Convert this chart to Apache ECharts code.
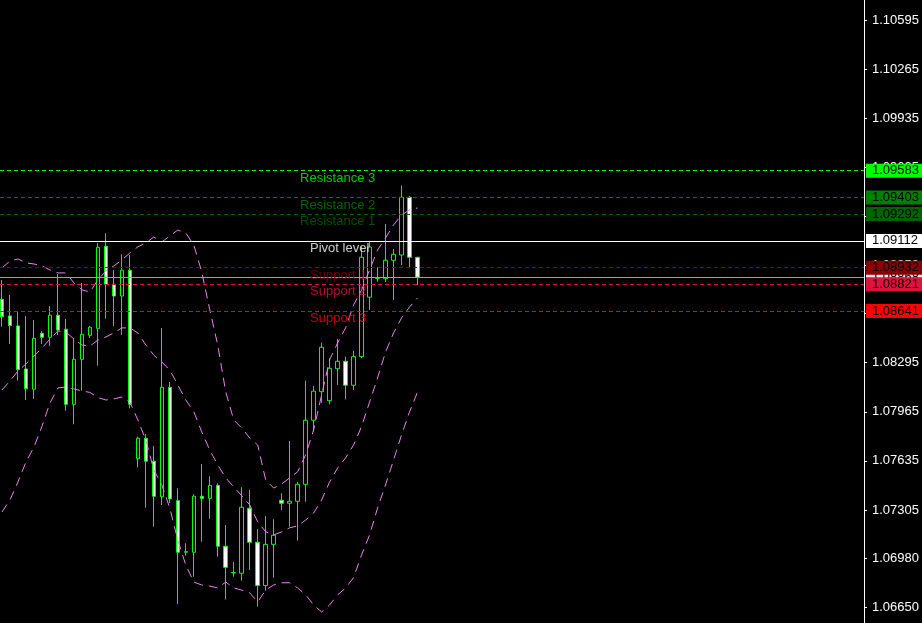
<!DOCTYPE html>
<html><head><meta charset="utf-8">
<script src="https://cdn.jsdelivr.net/npm/echarts@6/dist/echarts.min.js"></script>
<style>html,body{margin:0;padding:0;background:#000;}#c{width:922px;height:623px;}</style>
</head><body><div id="c"></div>
<script>
// ---- data (EURUSD-style quotes) ----
const bars = [0,1,2,3,4,5,6,7,8,9,10,11,12,13,14,15,16,17,18,19,20,21,22,23,24,25,26,27,28,29,30,31,32,33,34,35,36,37,38,39,40,41,42,43,44,45,46,47,48,49,50,51,52];
const opens  = [1.08720,1.08608,1.08541,1.08252,1.08116,1.08492,1.08465,1.08613,1.08519,1.08015,1.08317,1.08478,1.08525,1.09076,1.08821,1.08742,1.08915,1.07650,1.07787,1.07633,1.07395,1.08129,1.07368,1.07022,1.07022,1.07398,1.07384,1.07471,1.07062,1.06883,1.06881,1.07317,1.07089,1.06798,1.07075,1.07371,1.07351,1.07364,1.07478,1.07908,1.08100,1.08039,1.08254,1.08304,1.08143,1.08335,1.08734,1.08861,1.08858,1.08982,1.09017,1.09405,1.09002];
const closes = [1.08603,1.08543,1.08248,1.08120,1.08458,1.08465,1.08613,1.08514,1.08015,1.08317,1.08485,1.08532,1.09069,1.08821,1.08742,1.08915,1.08015,1.07787,1.07633,1.07398,1.08129,1.07380,1.07022,1.07026,1.07398,1.07382,1.07471,1.07062,1.06921,1.06886,1.07324,1.07089,1.06798,1.07075,1.07136,1.07351,1.07364,1.07478,1.07908,1.08103,1.08398,1.08257,1.08304,1.08143,1.08335,1.09002,1.09071,1.08864,1.08982,1.09022,1.09405,1.09002,1.08868];
const lows   = [1.08536,1.08420,1.08174,1.08044,1.08051,1.08420,1.08407,1.08480,1.07972,1.07881,1.08107,1.08460,1.08274,1.08590,1.08541,1.08480,1.07988,1.07592,1.07321,1.07194,1.07339,1.07353,1.06673,1.06999,1.06858,1.07093,1.07247,1.06992,1.06706,1.06858,1.06831,1.06903,1.06657,1.06764,1.06851,1.07306,1.07194,1.07100,1.07361,1.07831,1.08024,1.08015,1.08145,1.08049,1.08111,1.08324,1.08648,1.08838,1.08836,1.08715,1.08950,1.08935,1.08816];
const highs  = [1.08850,1.08749,1.08633,1.08608,1.08581,1.08507,1.08675,1.08890,1.08588,1.08460,1.08830,1.08541,1.09096,1.09163,1.08917,1.09022,1.09017,1.07798,1.07816,1.07735,1.08527,1.08165,1.07451,1.07082,1.07411,1.07614,1.07532,1.07485,1.07205,1.06957,1.07458,1.07440,1.07176,1.07265,1.07243,1.07418,1.07769,1.07494,1.08174,1.08138,1.08429,1.08324,1.08454,1.08335,1.08374,1.09073,1.09109,1.08935,1.09226,1.09058,1.09484,1.09413,1.09004];
const bbUpper  = [1.08930,1.08977,1.08991,1.08964,1.08957,1.08944,1.08917,1.08897,1.08897,1.08830,1.08783,1.08769,1.08850,1.08910,1.08944,1.08984,1.09031,1.09072,1.09098,1.09138,1.09105,1.09145,1.09185,1.09165,1.09085,1.08903,1.08650,1.08413,1.08098,1.07910,1.07856,1.07789,1.07742,1.07507,1.07453,1.07480,1.07521,1.07562,1.07676,1.07843,1.08078,1.08313,1.08427,1.08528,1.08682,1.08783,1.08917,1.09051,1.09132,1.09219,1.09286,1.09320,1.09333];
const bbMiddle = [1.08111,1.08172,1.08239,1.08286,1.08339,1.08393,1.08453,1.08507,1.08500,1.08453,1.08413,1.08406,1.08446,1.08467,1.08494,1.08528,1.08528,1.08494,1.08413,1.08345,1.08299,1.08245,1.08145,1.08044,1.07966,1.07830,1.07708,1.07608,1.07521,1.07461,1.07401,1.07340,1.07226,1.07159,1.07138,1.07159,1.07186,1.07199,1.07238,1.07285,1.07373,1.07494,1.07588,1.07655,1.07742,1.07867,1.08030,1.08192,1.08366,1.08494,1.08595,1.08668,1.08729];
const bbLower  = [1.07292,1.07373,1.07494,1.07628,1.07728,1.07867,1.08024,1.08125,1.08131,1.08118,1.08105,1.08095,1.08060,1.08044,1.08051,1.08064,1.08030,1.07910,1.07775,1.07574,1.07474,1.07319,1.07104,1.06936,1.06822,1.06802,1.06795,1.06782,1.06822,1.06782,1.06768,1.06750,1.06688,1.06768,1.06802,1.06817,1.06817,1.06782,1.06736,1.06668,1.06621,1.06668,1.06736,1.06782,1.06852,1.07004,1.07138,1.07319,1.07474,1.07641,1.07809,1.07964,1.08098];
const levelNames  = ['Resistance 3','Resistance 2','Resistance 1','Pivot level','Support 1','Support 2','Support 3'];
const levelValues = [1.09583,1.09403,1.09292,1.09112,1.08932,1.08821,1.08641];
const bidPrice = 1.08868;
const tickLabels = [1.06650,1.06980,1.07305,1.07635,1.07965,1.08295,1.08625,1.08950,1.09280,1.09605,1.09935,1.10265,1.10595];

// ---- styles ----
const levelColors = ['#00ff00','#008000','#006400','#ffffff','#8b0000','#dc143c','#ff0000'];
const levelDash   = [[4,3],[4,3],[4,3],'solid',[4,3],[4,3],[4,3]];
const nameAnchor  = [37.3,37.3,37.3,38.55,38.55,38.55,38.55];
const FONT = 'Liberation Sans, Arial, sans-serif';
const bandColor = '#ee82ee';

const candleData = bars.map((b,i)=>[b, opens[i], closes[i], lows[i], highs[i]]);
const band = arr => bars.map((b,i)=>[b, arr[i]]);

function priceLabel(bg, fg){
  return {show:true, position:'end', distance:2, formatter:p=>Number(p.value).toFixed(5),
    color:fg, backgroundColor:bg, padding:[0,6,0,6], lineHeight:14, fontSize:13, fontFamily:FONT};
}
// bid line first so that level labels sit on top of its label
const markData = [{yAxis:bidPrice, lineStyle:{color:'#a0a0a0', type:'solid', width:1}, label:priceLabel('#e8e8e8','#000')}];
levelValues.forEach((v,i)=>{
  markData.push({yAxis:v, lineStyle:{color:levelColors[i], type:levelDash[i], width:1}, label:priceLabel(levelColors[i],'#000')});
});

const chart = echarts.init(document.getElementById('c'), null, {renderer:'canvas'});
chart.setOption({
  backgroundColor:'#000000',
  animation:false,
  grid:{left:0, right:57, top:0, bottom:0, containLabel:false},
  xAxis:{type:'value', min:-0.25, max:107.875, show:false, splitLine:{show:false}},
  yAxis:{type:'value', position:'right', min:1.06547, max:1.10729, scale:true,
    splitLine:{show:false},
    axisLine:{show:true, onZero:false, lineStyle:{color:'#ffffff', width:1}},
    axisTick:{show:true, length:3, inside:false, customValues:tickLabels, lineStyle:{color:'#ffffff'}},
    axisLabel:{show:true, customValues:tickLabels, margin:8, color:'#ffffff', fontSize:13, fontFamily:FONT,
      formatter:v=>Number(v).toFixed(5)}
  },
  series:[
    {type:'line', name:'levels', data:[], clip:false, z:1, silent:true,
     markLine:{symbol:['none','none'], silent:true, animation:false, precision:5, data:markData}},
    {type:'candlestick', name:'price', data:candleData, encode:{x:0, y:[1,2,3,4]}, barWidth:4, z:3,
     itemStyle:{color:'#000000', color0:'#ffffff', borderColor:'#00ff00', borderColor0:'#00ff00', borderWidth:1}},
    {type:'line', name:'upper', data:band(bbUpper), showSymbol:false, z:4, lineStyle:{color:bandColor, width:1, type:[9,6]}},
    {type:'line', name:'middle', data:band(bbMiddle), showSymbol:false, z:4, lineStyle:{color:bandColor, width:1, type:[9,6]}},
    {type:'line', name:'lower', data:band(bbLower), showSymbol:false, z:4, lineStyle:{color:bandColor, width:1, type:[9,6]}},
    {type:'scatter', name:'names', symbolSize:0, z:5, silent:true,
     data:levelValues.map((v,i)=>({value:[nameAnchor[i], v],
       label:{show:true, formatter:levelNames[i], position:[0,1], align:'left', verticalAlign:'top',
         color:levelColors[i], fontSize:13, fontFamily:FONT}}))}
  ]
});
</script></body></html>
